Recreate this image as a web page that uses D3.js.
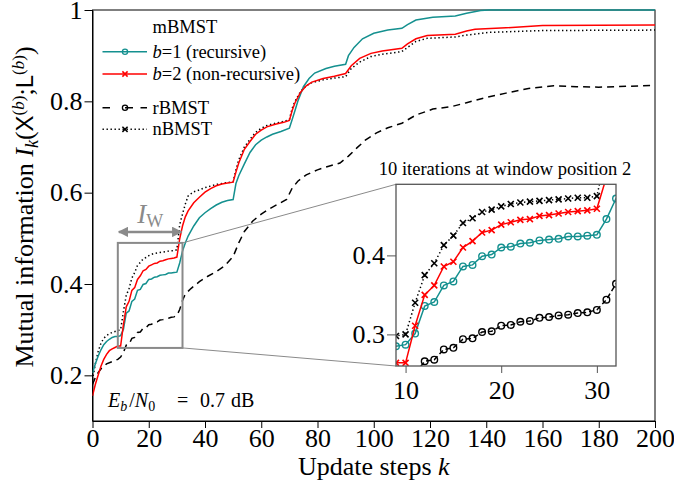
<!DOCTYPE html>
<html lang="en">
<head>
<meta charset="UTF-8">
<title>Mutual information vs update steps</title>
<script src="https://d3js.org/d3.v7.min.js"></script>
<style>
body { margin: 0; background: #fff; }
svg { display: block; }
text { font-family: "Liberation Serif", "Times New Roman", serif; fill: #000; }
.tick text { font-family: "Liberation Serif", "Times New Roman", serif; font-size: 26px; }
.sans { font-family: "Liberation Sans", "DejaVu Sans", sans-serif; }
</style>
</head>
<body>
<script>
// values: [update step k, mutual information]
const mbmstB1 = [[0,0.205],[1,0.225],[2,0.242],[3,0.256],[4,0.267],[5,0.274],[6,0.279],[7,0.283],[8,0.285],
  [9,0.285],[10,0.287],[11,0.301],[12,0.336],[13,0.341],[14,0.362],[15,0.367],[16,0.386],[17,0.388],[18,0.399],
  [19,0.401],[20,0.41],[21,0.411],[22,0.415],[23,0.416],[24,0.419],[25,0.42],[26,0.421],[27,0.424],[28,0.424],
  [29,0.425],[30,0.426],[31,0.446],[32,0.472],
  [33,0.49],[34,0.505],[36,0.527],[38,0.545],[40,0.556],[42,0.565],[44,0.573],[46,0.579],[48,0.583],[50,0.585],
  [51,0.62],[52,0.637],[54,0.663],[56,0.688],[58,0.705],[60,0.715],[62,0.722],[64,0.728],[67,0.734],[70,0.741],
  [71,0.76],[72,0.78],[73,0.8],[75,0.832],[77,0.85],[79,0.862],[83,0.872],[86,0.877],[90,0.881],[91,0.9],
  [93,0.918],[96,0.937],[100,0.949],[105,0.956],[110,0.96],[112,0.968],[115,0.978],[121,0.984],[129,0.987],
  [133,0.993],[138,0.999],[141,1],[200,1]];

const mbmstB2 = [[0,0.155],[1,0.18],[2,0.2],[3,0.22],[4,0.235],[5,0.246],[6,0.254],[7,0.258],[8,0.261],
  [9,0.264],[10,0.264],[11,0.311],[12,0.35],[13,0.362],[14,0.386],[15,0.392],[16,0.41],[17,0.418],[18,0.429],
  [19,0.432],[20,0.439],[21,0.442],[22,0.445],[23,0.446],[24,0.45],[25,0.451],[26,0.453],[27,0.455],[28,0.456],
  [29,0.457],[30,0.459],[31,0.499],[32,0.527],
  [33,0.547],[34,0.56],[36,0.578],[38,0.59],[40,0.601],[42,0.609],[44,0.615],[46,0.619],[48,0.621],[50,0.623],
  [51,0.645],[52,0.665],[54,0.695],[56,0.712],[58,0.728],[60,0.737],[62,0.744],[65,0.75],[68,0.754],[70,0.758],
  [71,0.78],[72,0.797],[74,0.82],[76,0.834],[78,0.842],[82,0.85],[86,0.855],[90,0.861],[92,0.878],[95,0.894],
  [99,0.905],[103,0.91],[110,0.916],[112,0.926],[115,0.937],[119,0.944],[129,0.947],[133,0.954],[136,0.958],
  [147,0.961],[160,0.966],[200,0.967]];

const rbmst = [[0,0.18],[1,0.195],[2,0.206],[3,0.214],[4,0.22],[5,0.225],[7,0.23],[9,0.235],[10,0.24],[11,0.25],
  [12,0.266],[13,0.268],[14,0.281],[15,0.283],[16,0.294],[17,0.295],[18,0.303],[19,0.304],[20,0.311],[21,0.312],
  [22,0.316],[23,0.317],[24,0.321],[25,0.322],[26,0.324],[27,0.325],[28,0.327],[29,0.328],[30,0.331],[31,0.344],
  [32,0.364],
  [33,0.378],[35,0.39],[38,0.405],[41,0.417],[44,0.427],[47,0.44],[50,0.46],[52,0.49],[54,0.515],[57,0.538],
  [60,0.553],[63,0.565],[66,0.575],[69,0.585],[71,0.61],[73,0.625],[76,0.639],[80,0.65],[84,0.658],[88,0.665],
  [91,0.68],[94,0.698],[97,0.715],[101,0.731],[105,0.742],[110,0.752],[115,0.77],[121,0.783],[128,0.789],
  [133,0.797],[139,0.807],[147,0.818],[155,0.828],[164,0.834],[172,0.832],[180,0.831],[190,0.833],[200,0.835]];

const nbmst = [[0,0.19],[1,0.225],[2,0.252],[3,0.27],[4,0.281],[5,0.287],[6,0.291],[7,0.294],[8,0.296],
  [9,0.298],[10,0.3],[11,0.34],[12,0.375],[13,0.39],[14,0.413],[15,0.425],[16,0.441],[17,0.447],[18,0.455],
  [19,0.458],[20,0.462],[21,0.465],[22,0.467],[23,0.468],[24,0.469],[25,0.47],[26,0.471],[27,0.472],[28,0.473],
  [29,0.473],[30,0.475],[31,0.53],[32,0.553],
  [33,0.575],[34,0.593],[36,0.602],[38,0.606],[40,0.611],[44,0.618],[48,0.622],[50,0.624],[51,0.65],[52,0.672],
  [54,0.7],[56,0.717],[58,0.732],[60,0.741],[62,0.747],[65,0.752],[68,0.756],[70,0.76],[71,0.785],[72,0.8],
  [74,0.822],[76,0.834],[78,0.841],[82,0.847],[86,0.851],[90,0.854],[92,0.872],[95,0.886],[99,0.898],[103,0.903],
  [110,0.909],[112,0.918],[115,0.931],[119,0.938],[129,0.941],[133,0.945],[141,0.951],[160,0.955],[200,0.956]];

const xTicks = [0, 20, 40, 60, 80, 100, 120, 140, 160, 180, 200];
const yTicks = [0.2, 0.4, 0.6, 0.8, 1];
const insetXTicks = [10, 20, 30];
const insetYTicks = [0.3, 0.4];
const zoomWindow = {k: [9, 32], v: [0.26, 0.49]};

const teal = "#14908f";
const series = [
  {data: rbmst, color: "#000", dash: "7,5", mark: "o"},
  {data: nbmst, color: "#000", dash: "1.4,2.6", mark: "x"},
  {data: mbmstB1, color: teal, dash: null, mark: "o"},
  {data: mbmstB2, color: "#ff0000", dash: null, mark: "x"}
];

const W = 674, H = 487;
const svg = d3.select("body").append("svg").attr("width", W).attr("height", H);
const fmt = d3.format("~g");

const x = d3.scaleLinear().domain([0, 200]).range([92.5, 655]);
const y = d3.scaleLinear().domain([0.1, 1]).range([421, 10]);

svg.append("clipPath").attr("id", "clipMain").append("rect")
  .attr("x", x(0)).attr("y", y(1) - 1).attr("width", x(200) - x(0)).attr("height", y(0.1) - y(1) + 1);

// axes
svg.append("g").attr("transform", `translate(0,${y(0.1)})`)
  .call(d3.axisBottom(x).tickValues(xTicks).tickSize(7).tickPadding(1).tickSizeOuter(0))
  .attr("font-family", null).attr("font-size", null);
svg.append("g").attr("transform", `translate(${x(0)},0)`)
  .call(d3.axisLeft(y).tickValues(yTicks).tickFormat(fmt).tickSize(8).tickPadding(2).tickSizeOuter(0))
  .attr("font-family", null).attr("font-size", null);
svg.append("rect").attr("x", x(0)).attr("y", y(1)).attr("width", x(200) - x(0)).attr("height", y(0.1) - y(1))
  .attr("fill", "none").attr("stroke", "#000").attr("stroke-width", 1);

const line = d3.line().x(d => x(d[0])).y(d => y(d[1]));
const plot = svg.append("g").attr("clip-path", "url(#clipMain)");
series.forEach(s => {
  plot.append("path").datum(s.data).attr("d", line)
    .attr("fill", "none").attr("stroke", s.color).attr("stroke-width", 1.5)
    .attr("stroke-dasharray", s.dash);
});

// zoom window box, arrow and connectors
const grey = "#8a8a8a";
const bx0 = x(zoomWindow.k[0]), bx1 = x(zoomWindow.k[1]);
const by0 = y(zoomWindow.v[1]), by1 = y(zoomWindow.v[0]);

const xi = d3.scaleLinear().domain(zoomWindow.k).range([396, 616]);
const yi = d3.scaleLinear().domain(zoomWindow.v).range([366, 184.3]);

svg.append("line").attr("x1", bx1).attr("y1", by0).attr("x2", xi.range()[0]).attr("y2", yi.range()[1])
  .attr("stroke", grey).attr("stroke-width", 1);
svg.append("line").attr("x1", bx1).attr("y1", by1).attr("x2", xi.range()[0]).attr("y2", yi.range()[0])
  .attr("stroke", grey).attr("stroke-width", 1);
svg.append("rect").attr("x", bx0).attr("y", by0).attr("width", bx1 - bx0).attr("height", by1 - by0)
  .attr("fill", "none").attr("stroke", grey).attr("stroke-width", 2);

const defs = svg.append("defs");
defs.append("marker").attr("id", "ah").attr("viewBox", "0 0 10 10").attr("refX", 9).attr("refY", 5)
  .attr("markerWidth", 4.2).attr("markerHeight", 4.2).attr("orient", "auto-start-reverse")
  .append("path").attr("d", "M0,0L10,5L0,10z").attr("fill", grey);
const ay = by0 - 11;
svg.append("line").attr("x1", bx0 + 1).attr("x2", bx1 - 1).attr("y1", ay).attr("y2", ay)
  .attr("stroke", grey).attr("stroke-width", 2.5)
  .attr("marker-start", "url(#ah)").attr("marker-end", "url(#ah)");
const iw = svg.append("text").attr("x", (bx0 + bx1) / 2).attr("y", ay - 9).attr("text-anchor", "middle")
  .style("fill", grey).style("font-size", "27px");
iw.append("tspan").style("font-style", "italic").style("fill", grey).text("I");
iw.append("tspan").attr("dy", 4).style("font-size", "18px").style("fill", grey).text("W");

// inset
svg.append("clipPath").attr("id", "clipInset").append("rect")
  .attr("x", xi.range()[0]).attr("y", yi.range()[1]).attr("width", xi.range()[1] - xi.range()[0])
  .attr("height", yi.range()[0] - yi.range()[1]);
svg.append("rect").attr("x", xi.range()[0]).attr("y", yi.range()[1])
  .attr("width", xi.range()[1] - xi.range()[0]).attr("height", yi.range()[0] - yi.range()[1])
  .attr("fill", "#fff");

const lineIn = d3.line().x(d => xi(d[0])).y(d => yi(d[1]));
const inset = svg.append("g").attr("clip-path", "url(#clipInset)");
series.forEach(s => {
  const pts = s.data.filter(d => d[0] >= zoomWindow.k[0] - 1 && d[0] <= zoomWindow.k[1] + 1);
  inset.append("path").datum(pts).attr("d", lineIn)
    .attr("fill", "none").attr("stroke", s.color).attr("stroke-width", 1.5)
    .attr("stroke-dasharray", s.dash ? (s.mark === "x" ? "1.4,2.6" : "5,3") : null);
  const marks = pts.filter(d => d[0] >= zoomWindow.k[0] && d[0] <= zoomWindow.k[1]);
  if (s.mark === "o") {
    inset.selectAll(null).data(marks).enter().append("circle")
      .attr("cx", d => xi(d[0])).attr("cy", d => yi(d[1])).attr("r", 3.3)
      .attr("fill", "none").attr("stroke", s.color).attr("stroke-width", 1.4);
  } else {
    inset.selectAll(null).data(marks).enter().append("path")
      .attr("transform", d => `translate(${xi(d[0])},${yi(d[1])})`)
      .attr("d", "M-3,-3L3,3M-3,3L3,-3")
      .attr("stroke", s.color).attr("stroke-width", 1.6);
  }
});

svg.append("g").attr("transform", `translate(0,${yi.range()[0]})`)
  .call(d3.axisBottom(xi).tickValues(insetXTicks).tickSize(7).tickPadding(8).tickSizeOuter(0))
  .attr("font-family", null).attr("font-size", null)
  .call(g => g.select(".domain").remove())
  .call(g => g.selectAll("line").attr("stroke", "#555"));
svg.append("g").attr("transform", `translate(${xi.range()[0]},0)`)
  .call(d3.axisLeft(yi).tickValues(insetYTicks).tickFormat(fmt).tickSize(9).tickPadding(2).tickSizeOuter(0))
  .attr("font-family", null).attr("font-size", null)
  .call(g => g.select(".domain").remove())
  .call(g => g.selectAll("line").attr("stroke", "#555"));
svg.append("rect").attr("x", xi.range()[0]).attr("y", yi.range()[1])
  .attr("width", xi.range()[1] - xi.range()[0]).attr("height", yi.range()[0] - yi.range()[1])
  .attr("fill", "none").attr("stroke", "#555").attr("stroke-width", 1.3);
svg.append("text").attr("x", (xi.range()[0] + xi.range()[1]) / 2 - 1).attr("y", 175)
  .attr("text-anchor", "middle").style("font-size", "18.5px")
  .text("10 iterations at window position 2");

// legend
const lg = svg.append("g");
lg.append("text").attr("x", 152.5).attr("y", 33).style("font-size", "18.5px").text("mBMST");
const legendRows = [
  {s: series[2], y: 51.7, label: [["b", true], ["=1 (recursive)", false]]},
  {s: series[3], y: 74, label: [["b", true], ["=2 (non-recursive)", false]]},
  {s: series[0], y: 107.7, label: [["rBMST", false]]},
  {s: series[1], y: 129.3, label: [["nBMST", false]]}
];
legendRows.forEach(r => {
  lg.append("line").attr("x1", 102.5).attr("x2", 147).attr("y1", r.y).attr("y2", r.y)
    .attr("stroke", r.s.color).attr("stroke-width", 1.5)
    .attr("stroke-dasharray", r.s.dash ? (r.s.mark === "o" ? "7.5,15,8" : "1.4,2.6") : null);
  if (r.s.mark === "o") {
    lg.append("circle").attr("cx", 125).attr("cy", r.y).attr("r", 2.6)
      .attr("fill", "none").attr("stroke", r.s.color).attr("stroke-width", 1.3);
  } else {
    lg.append("path").attr("transform", `translate(125,${r.y})`).attr("d", "M-2.6,-2.6L2.6,2.6M-2.6,2.6L2.6,-2.6")
      .attr("stroke", r.s.color).attr("stroke-width", 1.5);
  }
  const t = lg.append("text").attr("x", 152.5).attr("y", r.y + 6).style("font-size", "18.5px");
  r.label.forEach(p => t.append("tspan").style("font-style", p[1] ? "italic" : null).text(p[0]));
});

// E_b/N_0 annotation, pieces spaced like the typeset formula
const eb = svg.append("g").style("font-size", "20px");
const ebBase = 407;
const ebT = eb.append("text").attr("x", 108).attr("y", ebBase);
ebT.append("tspan").style("font-style", "italic").text("E");
ebT.append("tspan").attr("dy", 4).style("font-style", "italic").style("font-size", "14px").text("b");
ebT.append("tspan").attr("dy", -4).attr("dx", 2).text("/");
ebT.append("tspan").style("font-style", "italic").text("N");
ebT.append("tspan").attr("dy", 4).style("font-size", "14px").text("0");
eb.append("text").attr("x", 177).attr("y", ebBase).text("=");
eb.append("text").attr("x", 200).attr("y", ebBase).text("0.7");
eb.append("text").attr("x", 231).attr("y", ebBase).text("dB");

// axis titles
const xt = svg.append("text").attr("x", (x(0) + x(200)) / 2).attr("y", 475)
  .attr("text-anchor", "middle").style("font-size", "26px");
xt.append("tspan").text("Update steps ");
xt.append("tspan").style("font-style", "italic").text("k");

const yt = svg.append("text").attr("transform", "translate(33,207) rotate(-90)")
  .attr("text-anchor", "middle").style("font-size", "26px");
yt.append("tspan").text("Mutual information ");
yt.append("tspan").style("font-style", "italic").text("I");
yt.append("tspan").attr("dy", 5).style("font-style", "italic").style("font-size", "18px").text("k");
yt.append("tspan").attr("dy", -5).text("(");
yt.append("tspan").attr("class", "sans").style("font-size", "24px").text("X");
yt.append("tspan").attr("dy", -9).style("font-size", "17px").text("(");
yt.append("tspan").style("font-size", "17px").style("font-style", "italic").text("b");
yt.append("tspan").style("font-size", "17px").text(")");
yt.append("tspan").attr("dy", 9).text(";");
yt.append("tspan").attr("class", "sans").style("font-size", "24px").text("L");
yt.append("tspan").attr("dy", -9).style("font-size", "17px").text("(");
yt.append("tspan").style("font-size", "17px").style("font-style", "italic").text("b");
yt.append("tspan").style("font-size", "17px").text(")");
yt.append("tspan").attr("dy", 9).text(")");
</script>
</body>
</html>
